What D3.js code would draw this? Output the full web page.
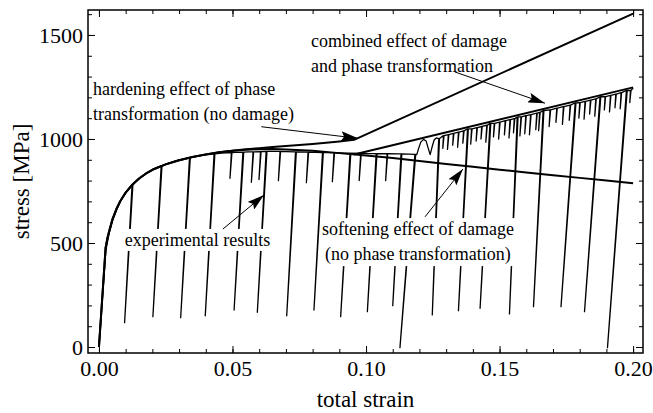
<!DOCTYPE html>
<html>
<head>
<meta charset="utf-8">
<script src="https://cdn.jsdelivr.net/npm/d3@7"></script>
<style>
  body { margin: 0; background: #fff; }
  svg { font-family: "Liberation Serif", "Times New Roman", serif; display: block; }
</style>
</head>
<body>
<svg id="chart" width="653" height="413"></svg>
<script>
// ---- data ----
const xTicks = [0, 0.05, 0.10, 0.15, 0.20];
const yTicks = [0, 500, 1000, 1500];

// model: damage only (softening)
const softening = [
  [0, 0], [0.0025, 478], [0.0032, 525], [0.004, 565], [0.005, 612], [0.0065, 662], [0.008, 702],
  [0.01, 742], [0.0125, 780], [0.015, 810], [0.0175, 833], [0.02, 852], [0.025, 878],
  [0.03, 898], [0.035, 913], [0.04, 926], [0.045, 936], [0.05, 943], [0.055, 948],
  [0.06, 951], [0.065, 952], [0.07, 950], [0.08, 943], [0.09, 932], [0.1, 921],
  [0.11, 908], [0.12, 894], [0.13, 880], [0.14, 866], [0.15, 852], [0.16, 839],
  [0.17, 826], [0.18, 813], [0.19, 800], [0.2, 787]
];

// model: phase transformation only (hardening)
const hardening = [
  [0, 0], [0.0025, 478], [0.0032, 525], [0.004, 565], [0.005, 612], [0.0065, 662], [0.008, 702],
  [0.01, 742], [0.0125, 780], [0.015, 810], [0.0175, 833], [0.02, 852], [0.025, 878],
  [0.03, 898], [0.035, 913], [0.04, 926], [0.045, 936], [0.05, 943], [0.055, 951],
  [0.06, 956], [0.065, 961], [0.07, 966], [0.075, 971], [0.08, 976], [0.085, 982],
  [0.09, 988], [0.0955, 996], [0.2, 1603]
];

// model: damage + phase transformation
const combined = [[0.0955, 925], [0.2, 1248]];

// experimental envelope [strain, stress]
const expEnvelope = [
  [0, 0], [0.0013, 235], [0.0026, 466], [0.0038, 545], [0.0052, 610], [0.0068, 665],
  [0.0083, 707], [0.0100, 742], [0.0116, 768], [0.0135, 792], [0.0155, 812],
  [0.0175, 832], [0.0196, 848], [0.0215, 862], [0.0255, 882], [0.0290, 896],
  [0.0328, 907], [0.0378, 919], [0.0410, 925], [0.0460, 932], [0.0510, 936],
  [0.0560, 938], [0.0650, 940], [0.0700, 939], [0.0780, 937], [0.0860, 934],
  [0.0920, 932], [0.1000, 930], [0.1060, 929], [0.1120, 928], [0.1160, 927],
  [0.1190, 925], [0.1197, 955], [0.1205, 985], [0.1215, 998], [0.1225, 990],
  [0.1233, 955], [0.1240, 925], [0.1247, 960], [0.1255, 995], [0.1263, 1005],
  [0.2000, 1245]
];

// full unloading/reloading cycles [strain top, stress top, strain bottom, stress bottom]
const expCycles = [
  [0.0124, 779, 0.0096, 117], [0.0233, 871, 0.0202, 146], [0.0339, 910, 0.0306, 141],
  [0.0431, 928, 0.0398, 150], [0.0539, 937, 0.0506, 178], [0.0626, 940, 0.0593, 167],
  [0.0736, 938, 0.0703, 150], [0.0837, 935, 0.0805, 178], [0.0940, 932, 0.0905, 146],
  [0.1038, 930, 0.1005, 170], [0.1131, 928, 0.1100, 199], [0.1183, 926, 0.1127, -3],
  [0.1272, 1002, 0.1248, 154], [0.1380, 1049, 0.1346, 175], [0.1464, 1075, 0.1427, 186],
  [0.1566, 1106, 0.1537, 159], [0.1663, 1137, 0.1627, 194], [0.1783, 1174, 0.1730, 194],
  [0.1876, 1203, 0.1818, 170], [0.1975, 1234, 0.1904, -3]
];

// partial unloading dips [strain, stress top, stress bottom]
const expDips = [
  [0.0496, 935, 811], [0.0577, 938, 792], [0.0605, 939, 805], [0.0678, 940, 800],
  [0.0783, 937, 790], [0.0880, 934, 795], [0.0980, 931, 800], [0.1079, 929, 800],
  [0.1290, 1016, 955], [0.1308, 1021, 950], [0.1327, 1027, 970], [0.1346, 1033, 960],
  [0.1365, 1039, 980], [0.1395, 1049, 975], [0.1415, 1055, 990], [0.1433, 1060, 1000],
  [0.1452, 1066, 985], [0.1480, 1075, 1010], [0.1500, 1081, 1000], [0.1521, 1088, 1020],
  [0.1539, 1093, 1005], [0.1555, 1098, 1030], [0.1580, 1106, 1015], [0.1598, 1112, 1025],
  [0.1616, 1117, 1020], [0.1639, 1124, 1045], [0.1650, 1128, 1040], [0.1689, 1140, 1060],
  [0.1714, 1148, 1080], [0.1739, 1156, 1070], [0.1764, 1163, 1090], [0.1800, 1175, 1100],
  [0.1820, 1181, 1095], [0.1840, 1187, 1120], [0.1860, 1193, 1110], [0.1895, 1204, 1140],
  [0.1915, 1210, 1130], [0.1935, 1216, 1150], [0.1955, 1223, 1145], [0.1990, 1233, 1175]
];

// annotations: text lines start at [strain, stress] (baseline), arrows [from, to]
const notes = [
  { lines: ["combined effect of damage", "and phase transformation"], at: [0.0794, 1442], bg: false },
  { lines: ["hardening effect of phase", "transformation (no damage)"], at: [-0.0022, 1212], bg: false },
  { lines: ["experimental results"], at: [0.0097, 486], bg: true },
  { lines: ["softening effect of damage", "(no phase transformation)"], at: [0.0835, 538], bg: true, indent: [0, 0.0011] }
];
const arrows = [
  [[0.0608, 1059], [0.0970, 1003]],
  [[0.1333, 1322], [0.1670, 1172]],
  [[0.0464, 567], [0.0618, 731]],
  [[0.1221, 626], [0.1363, 856]]
];

// ---- chart ----
const W = 653, H = 413;
const margin = { left: 88, top: 10, right: 10, bottom: 60 };
const svg = d3.select("#chart");

const x = d3.scaleLinear().domain([-0.0041, 0.2037]).range([margin.left, W - margin.right]);
const y = d3.scaleLinear().domain([-28.8, 1620]).range([H - margin.bottom, margin.top]);

const defs = svg.append("defs");
defs.append("clipPath").attr("id", "plotclip")
  .append("rect")
  .attr("x", margin.left).attr("y", margin.top)
  .attr("width", W - margin.left - margin.right)
  .attr("height", H - margin.top - margin.bottom);

defs.append("marker")
  .attr("id", "head")
  .attr("markerUnits", "userSpaceOnUse")
  .attr("viewBox", "0 0 17 10")
  .attr("refX", 17).attr("refY", 5)
  .attr("markerWidth", 17).attr("markerHeight", 10)
  .attr("orient", "auto")
  .append("path").attr("d", "M0,0 L17,5 L0,10 L3,5 Z").attr("fill", "#000");

const plot = svg.append("g").attr("clip-path", "url(#plotclip)");

// experimental trace: envelope with cycles and dips spliced in by strain
const E_UNLOAD = 230000;
const events = [];
expEnvelope.forEach(d => events.push({ e: d[0], pts: [d] }));
expCycles.forEach(([et, st, eb, sb]) =>
  events.push({ e: et, pts: [[et, st], [eb, sb], [et + 0.0003, st]] }));
expDips.forEach(([e, st, sb]) =>
  events.push({ e, pts: [[e, st], [e - (st - sb) / E_UNLOAD, sb], [e + 0.0002, st]] }));
events.sort((a, b) => a.e - b.e);
const expPoints = events.flatMap(d => d.pts);

const line = d3.line().x(d => x(d[0])).y(d => y(d[1]));

plot.append("path").datum(expPoints)
  .attr("d", line).attr("fill", "none")
  .attr("stroke", "#000").attr("stroke-width", 1.3).attr("stroke-linejoin", "round");

[softening, hardening, combined].forEach(s => {
  plot.append("path").datum(s)
    .attr("d", line).attr("fill", "none")
    .attr("stroke", "#000").attr("stroke-width", 2).attr("stroke-linejoin", "round");
});

// axes: inward ticks on all four sides
const xMinor = d3.range(0, 0.2001, 0.01);
const yMinor = d3.range(0, 1601, 100);
const bottomY = H - margin.bottom, rightX = W - margin.right;

function tickAxis(axis, transform) {
  const g = svg.append("g").attr("transform", transform).call(axis);
  g.select(".domain").remove();
  g.selectAll(".tick line").attr("stroke", "#000").attr("stroke-width", 1);
  return g;
}

tickAxis(d3.axisBottom(x).tickValues(xMinor).tickSize(-4).tickFormat(""), `translate(0,${bottomY})`);
tickAxis(d3.axisTop(x).tickValues(xMinor).tickSize(-4).tickFormat(""), `translate(0,${margin.top})`);
tickAxis(d3.axisLeft(y).tickValues(yMinor).tickSize(-4).tickFormat(""), `translate(${margin.left},0)`);
tickAxis(d3.axisRight(y).tickValues(yMinor).tickSize(-4).tickFormat(""), `translate(${rightX},0)`);
tickAxis(d3.axisTop(x).tickValues(xTicks).tickSize(-7).tickFormat(""), `translate(0,${margin.top})`);
tickAxis(d3.axisRight(y).tickValues(yTicks).tickSize(-7).tickFormat(""), `translate(${rightX},0)`);

const xAxis = tickAxis(d3.axisBottom(x).tickValues(xTicks).tickSize(-7).tickPadding(7)
  .tickFormat(d3.format(".2f")), `translate(0,${bottomY})`);
const yAxis = tickAxis(d3.axisLeft(y).tickValues(yTicks).tickSize(-7).tickPadding(5)
  .tickFormat(d3.format("d")), `translate(${margin.left},0)`);
[xAxis, yAxis].forEach(g => g.selectAll("text")
  .attr("fill", "#000").style("font-size", "22px")
  .style("font-family", "'Liberation Serif', 'Times New Roman', serif"));

svg.append("rect")
  .attr("x", margin.left).attr("y", margin.top)
  .attr("width", W - margin.left - margin.right)
  .attr("height", H - margin.top - margin.bottom)
  .attr("fill", "none").attr("stroke", "#000").attr("stroke-width", 1.5);

svg.append("text")
  .attr("x", (margin.left + rightX) / 2).attr("y", 407)
  .attr("text-anchor", "middle").style("font-size", "23px")
  .text("total strain");
svg.append("text")
  .attr("transform", `translate(29,${(margin.top + bottomY) / 2}) rotate(-90)`)
  .attr("text-anchor", "middle").style("font-size", "23px")
  .text("stress [MPa]");

// annotations
const noteG = svg.append("g");
notes.forEach(n => {
  const g = noteG.append("g");
  const bgRect = g.append("rect").attr("fill", "#fff");
  n.lines.forEach((t, i) => {
    g.append("text")
      .attr("x", x(n.at[0] + (n.indent ? n.indent[i] : 0)))
      .attr("y", y(n.at[1]) + i * 25)
      .style("font-size", "18px")
      .text(t);
  });
  if (n.bg) {
    const b = g.node().getBBox();
    bgRect.attr("x", b.x - 1).attr("y", b.y - 1).attr("width", b.width + 2).attr("height", b.height + 2);
  } else bgRect.remove();
});

noteG.selectAll("line.arrow").data(arrows).join("line")
  .attr("class", "arrow")
  .attr("x1", d => x(d[0][0])).attr("y1", d => y(d[0][1]))
  .attr("x2", d => x(d[1][0])).attr("y2", d => y(d[1][1]))
  .attr("stroke", "#000").attr("stroke-width", 1)
  .attr("marker-end", "url(#head)");
</script>
</body>
</html>
